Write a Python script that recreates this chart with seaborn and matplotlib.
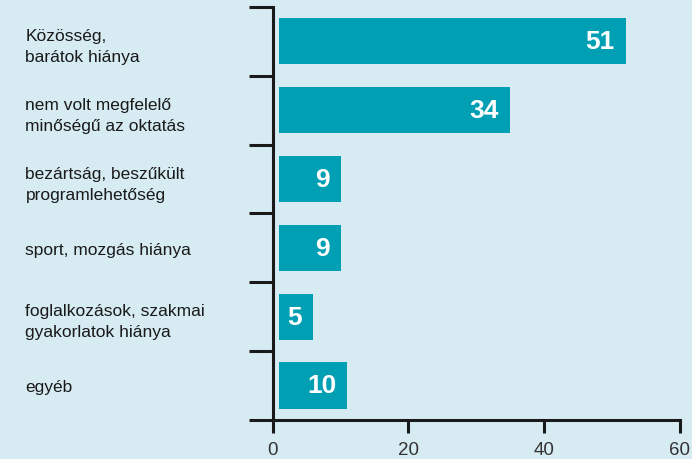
import matplotlib
matplotlib.use('Agg')
import matplotlib.pyplot as plt
import seaborn as sns
import pandas as pd
from matplotlib.ticker import FixedLocator

# --- Data ---
categories = [
    'Közösség,\nbarátok hiánya',
    'nem volt megfelelő\nminőségű az oktatás',
    'bezártság, beszűkült\nprogramlehetőség',
    'sport, mozgás hiánya',
    'foglalkozások, szakmai\ngyakorlatok hiánya',
    'egyéb',
]
values = [51, 34, 9, 9, 5, 10]
x_ticks = [0, 20, 40, 60]

BG = '#d6ebf2'
BAR = '#009fb4'
INK = '#1a1a1a'
BAR_START = 1.0  # bars sit slightly off the axis line in the original

sns.set_theme(style='white')
plt.rcParams['font.family'] = ['Liberation Sans', 'DejaVu Sans']

df = pd.DataFrame({'category': categories, 'value': values})

fig = plt.figure(figsize=(6.92, 4.60), dpi=100, facecolor=BG)
ax = fig.add_axes([0.394, 0.085, 0.5886, 0.8976])
ax.set_facecolor(BG)

sns.barplot(data=df, x='value', y='category', orient='h', color=BAR,
            width=0.67, saturation=1, ax=ax)

for patch, v in zip(ax.patches, values):
    patch.set_x(BAR_START)
    patch.set_edgecolor('none')
    cy = patch.get_y() + patch.get_height() / 2
    ax.annotate(str(v), xy=(BAR_START + v, cy), xytext=(-8, 0),
                textcoords='offset points', ha='right', va='center',
                color='white', fontsize=19, fontweight='bold')

ax.set_xlim(0, 60)
ax.set_ylim(len(categories) - 0.5, -0.5)
ax.set_xlabel('')
ax.set_ylabel('')

# x axis
ax.set_xticks(x_ticks)
ax.set_xticklabels([str(t) for t in x_ticks], fontsize=13.5, color='#333333')
ax.tick_params(axis='x', direction='out', length=9, width=2.2, color=INK, pad=6,
               bottom=True)

# y axis: labels at the far left, separators as minor ticks
ax.yaxis.set_minor_locator(FixedLocator([i - 0.5 for i in range(len(categories) + 1)]))
ax.tick_params(axis='y', which='minor', length=17, width=2.2, color=INK, left=True)
ax.tick_params(axis='y', which='major', length=0, pad=178)
for lab in ax.get_yticklabels():
    lab.set_horizontalalignment('left')
    lab.set_fontsize(12.5)
    lab.set_color(INK)
    lab.set_linespacing(1.5)

for side in ['top', 'right']:
    ax.spines[side].set_visible(False)
for side in ['left', 'bottom']:
    ax.spines[side].set_color(INK)
    ax.spines[side].set_linewidth(2.2)

fig.savefig('out.png', dpi=100, facecolor=BG)
plt.close(fig)
